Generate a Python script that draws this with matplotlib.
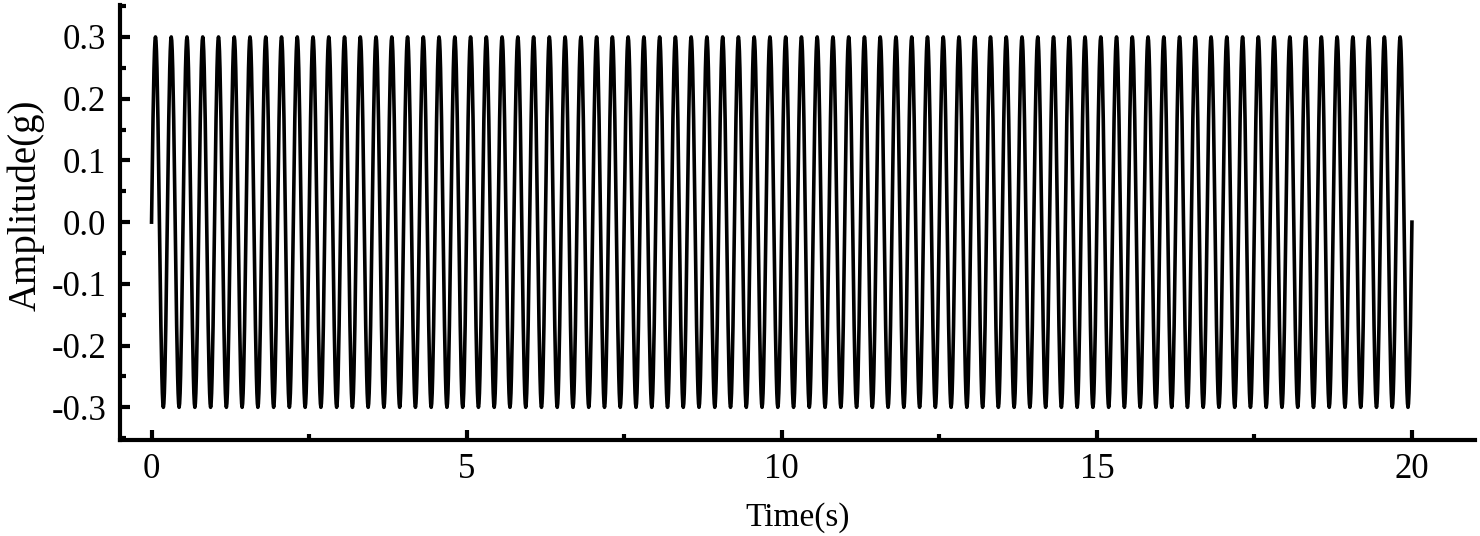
import numpy as np
import matplotlib
matplotlib.use("Agg")
import matplotlib.pyplot as plt
from matplotlib.ticker import MultipleLocator

cycle = [0.0, 0.059, 0.115, 0.167, 0.212, 0.249, 0.277, 0.294, 0.3, 0.294, 0.277, 0.249,
         0.212, 0.167, 0.115, 0.059, 0.0, -0.059, -0.115, -0.167, -0.212, -0.249, -0.277,
         -0.294, -0.3, -0.294, -0.277, -0.249, -0.212, -0.167, -0.115, -0.059]
n_cycles = 80
duration = 20.0

amp = np.append(np.tile(cycle, n_cycles), 0.0)
time = np.linspace(0, duration, len(amp))

plt.rcParams["font.family"] = ["Liberation Serif", "DejaVu Serif"]

fig = plt.figure(figsize=(14.8, 5.36), dpi=100)
ax = fig.add_axes([0.0811, 0.179, 0.9155, 0.812])
ax.plot(time, amp, color="black", linewidth=2.6)

ax.set_xlim(-0.5, 21.0)
ax.set_ylim(-0.353, 0.352)
ax.xaxis.set_major_locator(MultipleLocator(5))
ax.xaxis.set_minor_locator(MultipleLocator(2.5))
ax.yaxis.set_major_locator(MultipleLocator(0.1))
ax.yaxis.set_minor_locator(MultipleLocator(0.05))
ax.set_yticks([-0.3, -0.2, -0.1, 0.0, 0.1, 0.2, 0.3])
ax.set_yticklabels(["-0.3", "-0.2", "-0.1", "0.0", "0.1", "0.2", "0.3"])

for s in ["top", "right"]:
    ax.spines[s].set_visible(False)
for s in ["left", "bottom"]:
    ax.spines[s].set_linewidth(3)

ax.tick_params(which="major", direction="in", length=7, width=3, labelsize=25)
ax.tick_params(axis="y", which="major", pad=10)
ax.tick_params(axis="x", which="major", pad=9)
ax.tick_params(which="minor", direction="in", length=4, width=3)

ax.set_xlabel("Time(s)", fontsize=24, labelpad=12)
ax.set_ylabel("Amplitude(g)", fontsize=28)
ax.yaxis.set_label_coords(-0.056, 0.54)

fig.savefig("out.png", dpi=100)
